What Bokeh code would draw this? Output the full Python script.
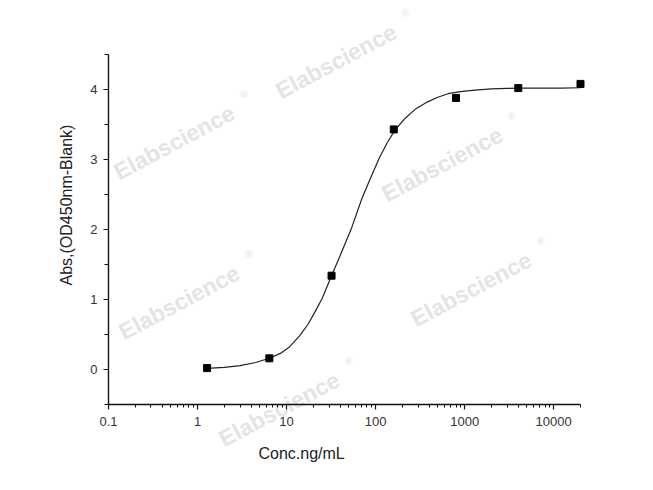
import math
from bokeh.plotting import figure
from bokeh.models import FixedTicker, Label, Range1d
from bokeh.embed import file_html
from bokeh.resources import INLINE

# ---- data ----
conc = [1.28, 6.4, 32, 160, 800, 4000, 20000]
absorb = [0.02, 0.16, 1.34, 3.43, 3.88, 4.02, 4.08]

curve_x = [1.28, 2, 3, 4.5, 6.4, 8.5, 10.5, 14, 17.5, 21, 25, 32, 40, 54, 70, 88,
           110, 135, 165, 215, 280, 380, 500, 650, 900, 1300, 2000, 3000, 4500,
           7000, 12000, 20000]
curve_y = [0.015, 0.03, 0.055, 0.10, 0.16, 0.23, 0.31, 0.48, 0.65, 0.83, 1.01, 1.34,
           1.63, 2.03, 2.44, 2.74, 3.02, 3.24, 3.42, 3.59, 3.72, 3.82, 3.89, 3.94,
           3.97, 3.99, 4.01, 4.015, 4.02, 4.02, 4.02, 4.025]

x_major = [0.1, 1, 10, 100, 1000, 10000]
x_labels = ["0.1", "1", "10", "100", "1000", "10000"]
x_minor = [0.2, 0.3, 0.4, 0.5, 0.6, 0.7, 0.8, 0.9,
           2, 3, 4, 5, 6, 7, 8, 9,
           20, 30, 40, 50, 60, 70, 80, 90,
           200, 300, 400, 500, 600, 700, 800, 900,
           2000, 3000, 4000, 5000, 6000, 7000, 8000, 9000,
           20000]
y_major = [0, 1, 2, 3, 4]
y_minor = [-0.5, 0.5, 1.5, 2.5, 3.5, 4.5]
x_bounds = (0.1, 20000)
y_bounds = (-0.5, 4.5)

x_title = "Conc.ng/mL"
y_title = "Abs,(OD450nm-Blank)"
watermark = "Elabscience"
# watermark anchors (page pixels, start of baseline)
wm_pos = [(277, 92), (115, 173), (383, 195), (120, 333), (412, 320), (220, 440)]

W, H = 637, 474
FL, FT, FR, FB = 108, 54, 580, 404   # axes box edges in page pixels
FONT = "Liberation Sans"

# ranges so that the axes box lands at FL..FR / FT..FB on a full-canvas frame
dec = (FR - FL) / math.log10(x_bounds[1] / x_bounds[0])
x0 = x_bounds[0] * 10 ** (-FL / dec)
x1 = x_bounds[1] * 10 ** ((W - FR) / dec)
upx = (FB - FT) / (y_bounds[1] - y_bounds[0])
y0 = y_bounds[0] - (H - FB) / upx
y1 = y_bounds[1] + FT / upx

p = figure(width=W, height=H, x_axis_type="log",
           x_range=Range1d(x0, x1), y_range=Range1d(y0, y1),
           output_backend="svg", toolbar_location=None, min_border=0)
p.outline_line_color = None
p.xgrid.visible = False
p.ygrid.visible = False
p.background_fill_color = "white"
p.border_fill_color = "white"


def sx(px):
    return px


def sy(py):
    return H - py


# watermarks
ang = 28.0
ca, sa = math.cos(math.radians(ang)), math.sin(math.radians(ang))
for (ex, ey) in wm_pos:
    p.add_layout(Label(x=sx(ex), y=sy(ey), x_units="screen", y_units="screen",
                       text=watermark, angle=ang, angle_units="deg",
                       text_font=FONT, text_font_style="bold", text_font_size="23px",
                       text_color="#e4e4e4", text_align="left",
                       text_baseline="alphabetic", level="underlay"))
    rx = ex + 147 * ca - 10 * sa
    ry = ey - 147 * sa - 10 * ca
    p.add_layout(Label(x=sx(rx), y=sy(ry), x_units="screen", y_units="screen",
                       text="\u00ae", angle=ang, angle_units="deg",
                       text_font=FONT, text_font_size="10px",
                       text_color="#e4e4e4", text_align="left",
                       text_baseline="alphabetic", level="underlay"))

p.line(curve_x, curve_y, line_color="#222222", line_width=1.2)
p.scatter(conc, absorb, marker="square", size=7, fill_color="black",
          line_color="black")

for ax in (p.xaxis[0], p.yaxis[0]):
    ax.axis_line_color = "#111111"
    ax.axis_line_width = 1.4
    ax.major_tick_line_color = "#111111"
    ax.minor_tick_line_color = "#111111"
    ax.major_tick_line_width = 1.2
    ax.minor_tick_line_width = 1.0
    ax.major_tick_in = 0
    ax.minor_tick_in = 0
    ax.major_tick_out = 5
    ax.major_label_text_font = FONT
    ax.major_label_text_font_size = "13px"
    ax.major_label_text_color = "#333333"

p.xaxis.ticker = FixedTicker(ticks=x_major, minor_ticks=x_minor)
p.xaxis.major_label_overrides = dict(zip(x_major, x_labels))
p.xaxis.minor_tick_out = 3
p.xaxis.major_label_standoff = 7
p.xaxis.fixed_location = y_bounds[0]
p.xaxis.bounds = x_bounds
p.yaxis.ticker = FixedTicker(ticks=y_major, minor_ticks=y_minor)
p.yaxis.minor_tick_out = 4
p.yaxis.major_label_standoff = 6
p.yaxis.fixed_location = x_bounds[0]
p.yaxis.bounds = y_bounds

p.add_layout(Label(x=sx(258), y=sy(453), x_units="screen", y_units="screen",
                   text=x_title, text_font=FONT, text_font_size="16px",
                   text_color="#222222", text_align="left",
                   text_baseline="middle"))
p.add_layout(Label(x=sx(66), y=sy(285), x_units="screen", y_units="screen",
                   text=y_title, angle=90, angle_units="deg", text_font=FONT,
                   text_font_size="16px", text_color="#222222",
                   text_align="left", text_baseline="middle"))

open("out.html", "w").write(file_html(p, INLINE))
